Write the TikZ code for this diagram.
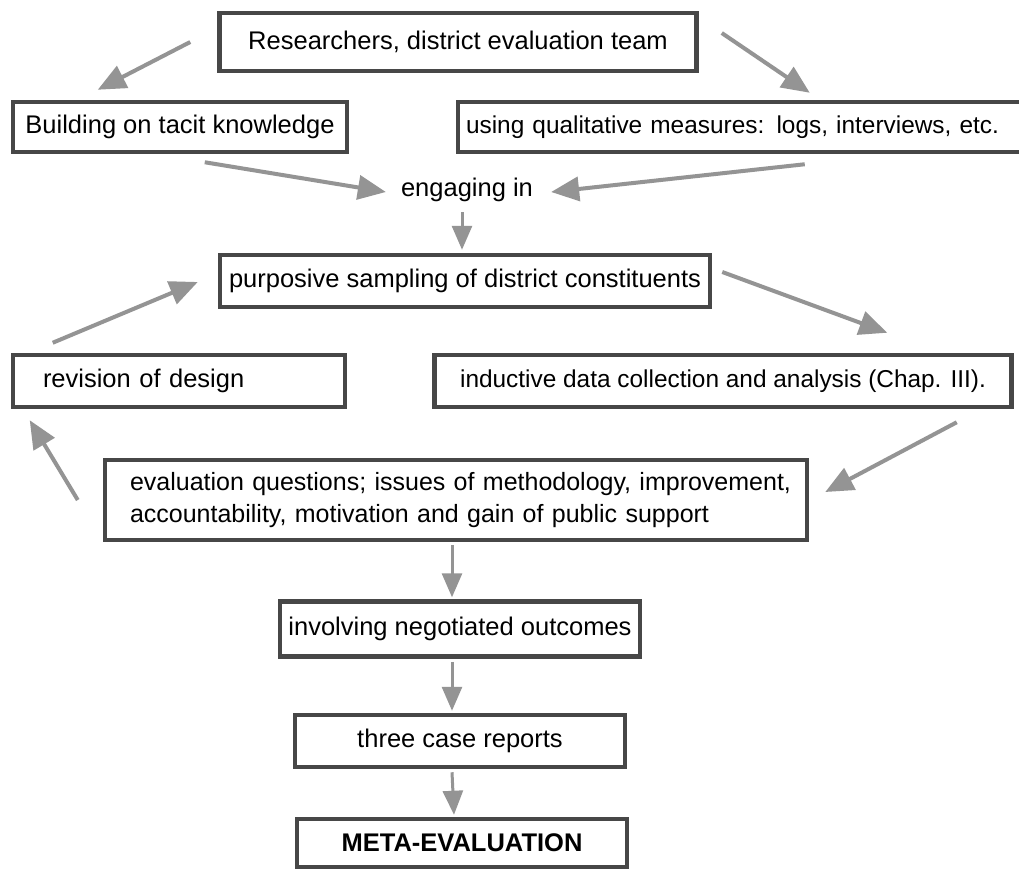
\documentclass[tikz,border=0pt]{standalone}
\usepackage{fontspec}
\setmainfont{Liberation Sans}
\usetikzlibrary{arrows.meta,calc}
\begin{document}
\begin{tikzpicture}[x=1pt,y=-1pt,
  box/.style={draw=black!72,line width=4.5pt,inner sep=0pt,fill=white,
    font=\fontsize{25.5}{32}\selectfont},
  smallbox/.style={box,font=\fontsize{24.4}{32}\selectfont},
  lbox/.style={box,align=left},
  lbl/.style={inner sep=0pt,font=\fontsize{25.5}{32}\selectfont},
  arr/.style={draw=black!42,line width=4pt,
    -{Triangle[length=28pt,width=24pt]}},
  varr/.style={draw=black!42,line width=3pt,
    -{Triangle[length=24pt,width=20pt]}}]
\clip (0,0) rectangle (1019,870);
\fill[white] (0,0) rectangle (1019,870);

% boxes
\node[box,minimum width=477,minimum height=58] (res) at (458,42)
  {Researchers, district evaluation team};
\node[box,minimum width=334,minimum height=50] (build) at (180,127)
  {Building on tacit knowledge};
\node[smallbox,align=left,minimum height=50,text width=558,inner xsep=8pt] (using) at (745,127)
  {\mbox{using qualitative measures: logs, interviews, etc.}};
\node[lbl] (engage) at (467,190) {engaging in};
\node[box,minimum width=490,minimum height=52] (purp) at (465,281)
  {purposive sampling of district constituents};
\node[lbox,minimum height=52,text width=272,inner xsep=30pt] (rev) at (179,381)
  {revision of design};
\node[smallbox,minimum width=577,minimum height=52] (ind) at (723,381)
  {inductive data collection and analysis (Chap. III).};
\node[lbox,minimum height=80,text width=652,inner xsep=25pt,
  font=\fontsize{25}{32}\selectfont] (eval) at (456,500)
  {\mbox{evaluation questions; issues of methodology, improvement,}\\
   \mbox{accountability, motivation and gain of public support}};
\node[box,minimum width=360,minimum height=55] (inv) at (460,629)
  {involving negotiated outcomes};
\node[box,minimum width=330,minimum height=52] (three) at (460,741)
  {three case reports};
\node[box,minimum width=330,minimum height=48,font=\fontsize{25.5}{32}\selectfont\bfseries] (meta) at (462,843)
  {META-EVALUATION};

% connectors
\draw[arr] ($(res.west)+(-27,0)$) -- ($(build.north west)+(87,-10)$);
\draw[arr] ($(res.east)+(23,-9)$) -- ($(using.north west)+(354,-7)$);
\draw[arr] ($(build.south west)+(194,8)$) -- ($(engage.west)+(-15,2)$);
\draw[arr] ($(using.south west)+(349,10)$) -- ($(engage.east)+(18,2)$);
\draw[varr] ($(engage.south)+(-5,10)$) -- ($(engage.south |- purp.north)+(-5,-3)$);
\draw[arr] ($(rev.north west)+(42,-10)$) -- ($(purp.west)+(-20,1)$);
\draw[arr] ($(purp.east)+(10,-9)$) -- ($(ind.north west)+(455,-20)$);
\draw[arr] ($(ind.south east)+(-57,13)$) -- ($(eval.east)+(16,-8)$);
\draw[arr] ($(eval.west)+(-25,0)$) -- ($(rev.south west)+(19,11)$);
\draw[varr] ($(inv.north |- eval.south)+(-8,3)$) -- ($(inv.north)+(-8,-2)$);
\draw[varr] ($(inv.south)+(-8,3)$) -- ($(three.north)+(-8,-2)$);
\draw[varr] ($(three.south)+(-8,3)$) -- ($(meta.north)+(-8,-2)$);
\end{tikzpicture}
\end{document}
